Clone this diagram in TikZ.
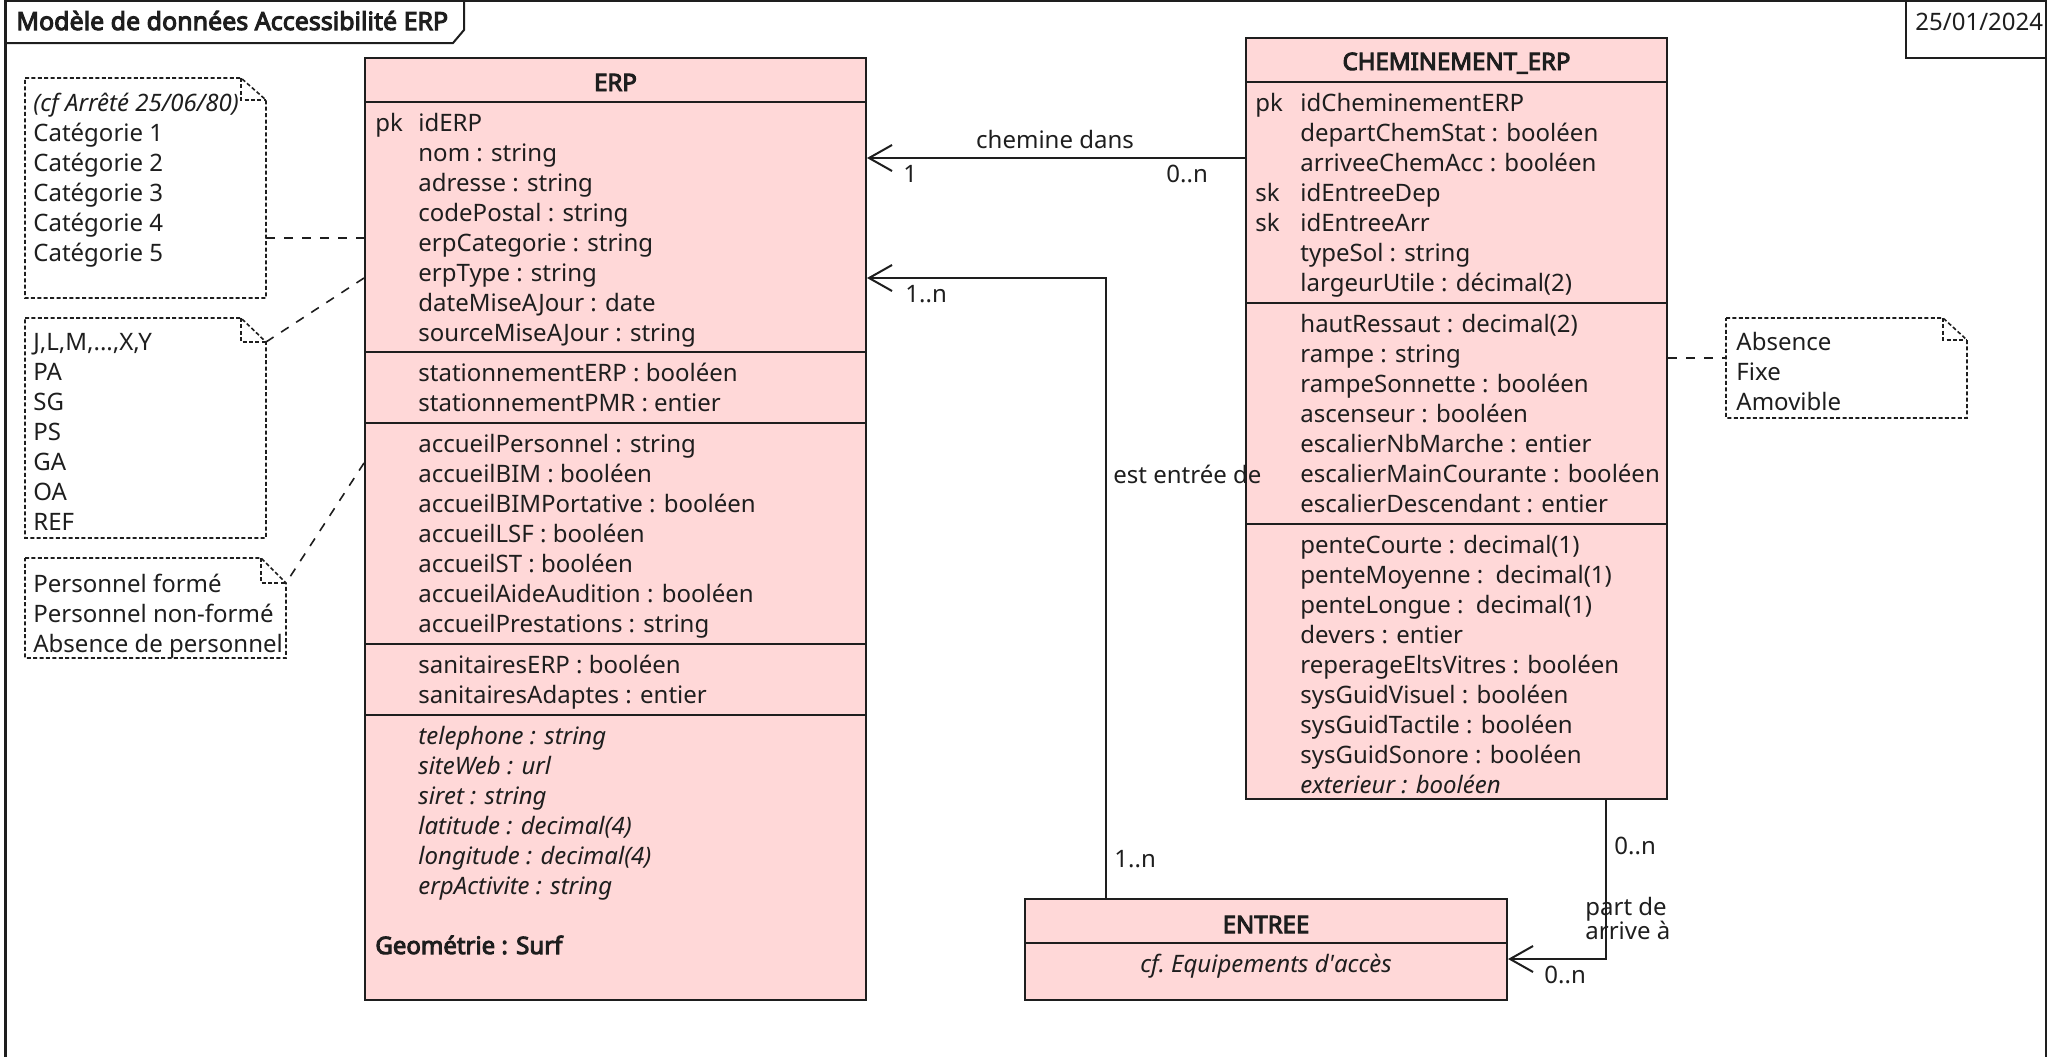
\documentclass[tikz,border=0pt]{standalone}
\usepackage{fontspec}
\setmainfont{Noto Sans}[AutoFakeBold=4]
\usetikzlibrary{arrows.meta,fit}
\definecolor{boxfill}{RGB}{255,216,216}
\definecolor{ink}{RGB}{30,30,30}
\begin{document}
\begin{tikzpicture}[x=0.5pt,y=-0.5pt,
  txt/.style={inner sep=0pt, anchor=base west, font=\fontsize{12pt}{14pt}\selectfont, text=ink},
  itxt/.style={txt, font=\fontsize{12pt}{14pt}\selectfont\itshape},
  btxt/.style={txt, font=\fontsize{12pt}{14pt}\selectfont\bfseries},
  ctitle/.style={inner sep=0pt, anchor=base, font=\fontsize{12pt}{14pt}\selectfont\bfseries, text=ink},
  cls/.style={draw=ink, fill=boxfill, line width=1pt, inner sep=0pt},
  csep/.style={draw=ink, line width=1pt},
  assoc/.style={draw=ink, line width=1pt, -{Straight Barb[length=11.5pt,width=13pt,line width=1pt]}},
  notebd/.style={draw=ink, line width=0.8pt, dash pattern=on 2pt off 1.2pt},
  noteln/.style={draw=ink, line width=0.8pt, dash pattern=on 4.5pt off 4.5pt},
  frm/.style={draw=ink, line width=1.3pt}
]
\useasboundingbox (0,0) rectangle (2054,1056);

% frame
\draw[frm] (5.5,1060) -- (5.5,1) -- (2046,1) -- (2046,1060);
\draw[frm, line width=1pt] (5.5,0) -- (464,0) -- (464,30) -- (453,43) -- (5.5,43);
\node[btxt, font=\fontsize{12.5pt}{14pt}\selectfont\bfseries] (title) at (16,30) {Modèle de données Accessibilité ERP};
\draw[frm, line width=1pt] (1906,0) -- (1906,58) -- (2046,58);
\node[txt] (date) at (1915,30) {25/01/2024};

% ===== ERP =====
\node[cls, fit={(365,58) (866,1000)}] (erp) {};
\node[ctitle] (erpt) at (615.5,91) {ERP};
\foreach \yy in {102,352,423,644,715} \draw[csep] (365,\yy) -- (866,\yy);
\node[txt] (erppk) at (375,131) {pk};
\foreach \t [count=\i from 0] in {idERP, nom : string, adresse : string, codePostal : string, erpCategorie : string, erpType : string, dateMiseAJour : date, sourceMiseAJour : string}
  \node[txt] (ea\i) at (418,131+30*\i) {\t};
\foreach \t [count=\i from 0] in {stationnementERP : booléen, stationnementPMR : entier}
  \node[txt] (eb\i) at (418,381+30*\i) {\t};
\foreach \t [count=\i from 0] in {accueilPersonnel : string, accueilBIM : booléen, accueilBIMPortative : booléen, accueilLSF : booléen, accueilST : booléen, accueilAideAudition : booléen, accueilPrestations : string}
  \node[txt] (ec\i) at (418,452+30*\i) {\t};
\foreach \t [count=\i from 0] in {sanitairesERP : booléen, sanitairesAdaptes : entier}
  \node[txt] (ed\i) at (418,673+30*\i) {\t};
\foreach \t [count=\i from 0] in {telephone : string, siteWeb : url, siret : string, latitude : decimal(4), longitude : decimal(4), erpActivite : string}
  \node[itxt] (ee\i) at (418,744+30*\i) {\t};
\node[btxt] (egeo) at (375,954) {Geométrie : Surf};

% ===== CHEMINEMENT_ERP =====
\node[cls, fit={(1246,38) (1667,799)}] (chem) {};
\node[ctitle] (chemt) at (1456.5,70) {CHEMINEMENT\_ERP};
\foreach \yy in {82,303,524} \draw[csep] (1246,\yy) -- (1667,\yy);
\node[txt] (cpk) at (1255,111) {pk};
\node[txt] (csk1) at (1255,201) {sk};
\node[txt] (csk2) at (1255,231) {sk};
\foreach \t [count=\i from 0] in {idCheminementERP, departChemStat : booléen, arriveeChemAcc : booléen, idEntreeDep, idEntreeArr, typeSol : string, largeurUtile : décimal(2)}
  \node[txt] (ca\i) at (1300,111+30*\i) {\t};
\foreach \t [count=\i from 0] in {hautRessaut : decimal(2), rampe : string, rampeSonnette : booléen, ascenseur : booléen, escalierNbMarche : entier, escalierMainCourante : booléen, escalierDescendant : entier}
  \node[txt] (cb\i) at (1300,332+30*\i) {\t};
\foreach \t [count=\i from 0] in {penteCourte : decimal(1), penteMoyenne :\ \ decimal(1), penteLongue :\ \ decimal(1), devers : entier, reperageEltsVitres : booléen, sysGuidVisuel : booléen, sysGuidTactile : booléen, sysGuidSonore : booléen}
  \node[txt] (cc\i) at (1300,553+30*\i) {\t};
\node[itxt] (cext) at (1300,793) {exterieur : booléen};

% ===== ENTREE =====
\node[cls, fit={(1025,899) (1507,1000)}] (entree) {};
\node[ctitle] (entt) at (1266,933) {ENTREE};
\draw[csep] (1025,943) -- (1507,943);
\node[inner sep=0pt, anchor=base, font=\fontsize{12pt}{14pt}\selectfont\itshape, text=ink] (entb) at (1266,972) {cf.\ Equipements d\textquotesingle accès};

% ===== notes =====
\draw[notebd] (25,78) -- (241,78) -- (266,100) -- (266,298) -- (25,298) -- cycle;
\draw[notebd] (241,78) -- (241,100) -- (266,100);
\node[itxt] (n1a) at (33,111) {(cf Arrêté 25/06/80)};
\foreach \t [count=\i from 1] in {Catégorie 1, Catégorie 2, Catégorie 3, Catégorie 4, Catégorie 5}
  \node[txt] (n1\i) at (33,111+30*\i) {\t};
\coordinate (n1c) at (266,238);

\draw[notebd] (25,318) -- (241,318) -- (266,342) -- (266,538) -- (25,538) -- cycle;
\draw[notebd] (241,318) -- (241,342) -- (266,342);
\node[txt] (n20) at (33,350) {J,L,M,...,X,Y};
\foreach \t [count=\i from 1] in {PA, SG, PS, GA, OA, REF}
  \node[txt] (n2\i) at (33,350+30*\i) {\t};
\coordinate (n2c) at (266,342);

\draw[notebd] (25,558) -- (261,558) -- (286,583) -- (286,658) -- (25,658) -- cycle;
\draw[notebd] (261,558) -- (261,583) -- (286,583);
\foreach \t [count=\i from 0] in {Personnel formé, Personnel non-formé, Absence de personnel}
  \node[txt] (n3\i) at (33,592+30*\i) {\t};
\coordinate (n3c) at (286,583);

\draw[notebd] (1726,318) -- (1943,318) -- (1967,340) -- (1967,418) -- (1726,418) -- cycle;
\draw[notebd] (1943,318) -- (1943,340) -- (1967,340);
\foreach \t [count=\i from 0] in {Absence, Fixe, Amovible}
  \node[txt] (n4\i) at (1736,350+30*\i) {\t};
\coordinate (n4c) at (1726,358);

% note links
\draw[noteln] (n1c) -- (erp.west |- n1c);
\draw[noteln] (erp.west |- 0,278) -- (n2c);
\draw[noteln] (erp.west |- 0,463) -- (n3c);
\draw[noteln] (chem.east |- n4c) -- (n4c);

% ===== associations =====
\draw[assoc] (chem.west |- 0,158) -- (erp.east |- 0,158);
\node[inner sep=0pt, anchor=base, font=\fontsize{12pt}{14pt}\selectfont, text=ink] (l1) at (1055,148) {chemine dans};
\node[txt] (l1a) at (903,182) {1};
\node[txt] (l1b) at (1166,182) {0..n};

\draw[assoc] (entree.north -| 1106,0) |- (erp.east |- 0,278);
\node[txt] (l2a) at (905,302) {1..n};
\node[txt] (l2b) at (1114,867) {1..n};
\node[txt] (l2) at (1113,483) {est entrée de};

\draw[assoc] (chem.south -| 1606,0) |- (entree.east |- 0,959);
\node[txt] (l3a) at (1614,854) {0..n};
\node[txt] (l3) at (1585,915) {part de};
\node[txt] (l3c) at (1585,939) {arrive à};
\node[txt] (l3b) at (1544,983) {0..n};
\end{tikzpicture}
\end{document}
